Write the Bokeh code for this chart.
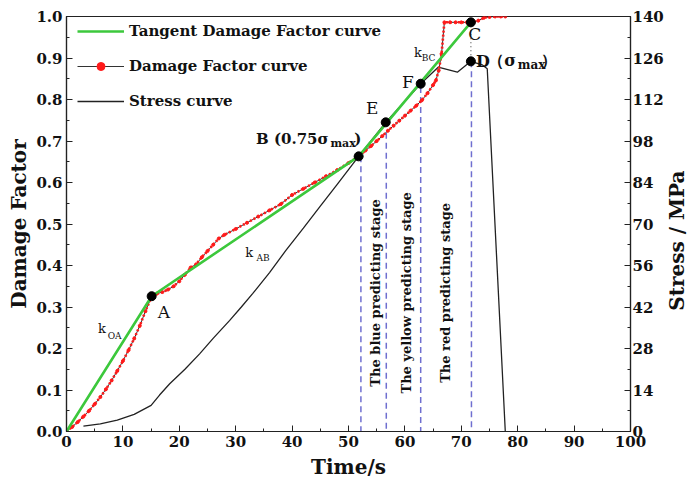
import math
from bokeh.plotting import figure
from bokeh.layouts import row
from bokeh.models import (Range1d, LinearAxis, SingleIntervalTicker, NumeralTickFormatter,
                          Legend, LegendItem)
from bokeh.core.properties import value
from bokeh.embed import file_html
from bokeh.resources import INLINE

# ---------------- data ----------------
tangent_time = [0, 15.1, 51.8, 71.7]
tangent_damage = [0, 0.326, 0.663, 0.986]

damage_time = [0, 1, 2, 3, 4, 5, 6, 7, 8, 9, 10, 11, 12, 13, 14, 15.1, 16, 17, 18, 19, 20,
               21, 22, 23, 24, 25, 26, 27, 28, 30, 32, 34, 36, 38, 40, 42, 44, 46, 48, 50,
               51.8, 53, 54, 55, 56, 57, 58, 59, 60, 61, 62, 63, 64, 65, 65.5, 66, 66.5, 67,
               68, 69, 70, 71, 72, 73, 74, 75, 76, 77, 77.8]
damage_factor = [0, 0.011, 0.023, 0.036, 0.05, 0.066, 0.083, 0.102, 0.123, 0.146, 0.17, 0.196,
                 0.224, 0.255, 0.29, 0.326, 0.332, 0.336, 0.342, 0.35, 0.362, 0.378, 0.395,
                 0.403, 0.42, 0.435, 0.45, 0.465, 0.474, 0.488, 0.503, 0.518, 0.533, 0.548,
                 0.57, 0.585, 0.6, 0.615, 0.63, 0.647, 0.663, 0.677, 0.688, 0.70, 0.712, 0.725,
                 0.737, 0.749, 0.761, 0.773, 0.785, 0.798, 0.815, 0.835, 0.846, 0.87, 0.91,
                 0.986, 0.986, 0.986, 0.986, 0.986, 0.986, 0.99, 0.997, 0.999, 1.0, 1.0, 1.0]

stress_time = [3, 6, 9, 12, 15, 16.5, 18.3, 21, 23.6, 26, 28.9, 31, 33, 36, 38.9, 42, 45, 48,
               51.8, 56.6, 62.8, 65.9, 69.3, 71.7, 73.7, 74.6, 77.8]
stress = [1.8, 2.6, 3.8, 5.8, 8.8, 12.3, 16.1, 21.0, 26.2, 31.4, 37.4, 42.0, 46.5, 53.6, 61.1,
          68.6, 76.0, 83.4, 92.8, 104.3, 117.3, 122.9, 121.2, 124.9, 123.7, 122.4, 0]

point_names = ["A", "B", "E", "F", "C", "D"]
point_time = [15.1, 51.8, 56.6, 62.8, 71.7, 71.7]
point_damage = [0.326, 0.663, 0.745, 0.838, 0.986, 0.892]

stage_line_time = [52.2, 56.7, 62.8, 71.8]
stage_line_top = [0.663, 0.72, 0.83, 0.892]

stage_names = ["The blue predicting stage", "The yellow predicting stage", "The red predicting stage"]

FONT = "DejaVu Serif"

p = figure(width=666, height=484, x_range=Range1d(0, 100), y_range=Range1d(0, 1),
           output_backend="svg", toolbar_location=None,
           min_border_left=66, min_border_right=34, min_border_top=16, min_border_bottom=53)
p.extra_y_ranges = {"stress": Range1d(0, 140)}
p.xgrid.visible = False
p.ygrid.visible = False
p.outline_line_color = "#222222"
p.outline_line_width = 1.2
p.background_fill_color = "white"
p.border_fill_color = "white"

def style_axis(ax):
    ax.axis_line_color = "#222222"
    ax.axis_line_width = 1.2
    ax.major_tick_in = 6
    ax.major_tick_out = 0
    ax.minor_tick_in = 3
    ax.minor_tick_out = 0
    ax.major_tick_line_color = "#222222"
    ax.minor_tick_line_color = "#222222"
    ax.major_label_text_font = FONT
    ax.major_label_text_font_style = "bold"
    ax.major_label_text_font_size = "15px"
    ax.major_label_text_color = "#111111"
    ax.major_label_standoff = 4
    ax.axis_label_text_font = FONT
    ax.axis_label_text_font_style = "bold"
    ax.axis_label_text_font_size = "20px"
    ax.axis_label_text_color = "#111111"
    ax.axis_label_standoff = 2

xa = p.xaxis[0]
xa.ticker = SingleIntervalTicker(interval=10, num_minor_ticks=2)
xa.axis_label = "Time/s"
style_axis(xa)
xa.axis_label_standoff = 5

ya = p.yaxis[0]
ya.ticker = SingleIntervalTicker(interval=0.1, num_minor_ticks=2)
ya.formatter = NumeralTickFormatter(format="0.0")
ya.axis_label = "Damage Factor"
style_axis(ya)

ra = LinearAxis(y_range_name="stress", ticker=SingleIntervalTicker(interval=14, num_minor_ticks=2))
style_axis(ra)
ra.major_label_standoff = 2
p.add_layout(ra, "right")

# stage dashed lines
p.segment(x0=stage_line_time, y0=stage_line_top, x1=stage_line_time, y1=[0] * len(stage_line_time),
          line_color="#6f6fd0", line_width=1.5, line_dash="6 4")
# dotted link C-D
p.segment(x0=[point_time[4]], y0=[point_damage[4]], x1=[point_time[5]], y1=[point_damage[5]],
          line_color="#555555", line_width=1.2, line_dash="1 3")

# stress curve
r_stress = p.line(stress_time, stress, y_range_name="stress", line_color="#222222", line_width=1.3)
# damage factor curve
r_dline = p.line(damage_time, damage_factor, line_color="#333333", line_width=1.0)
p.line(damage_time, damage_factor, line_color="#ff1a1a", line_width=2.6, line_dash="2 2")
r_ddots = p.scatter(damage_time, damage_factor, size=3, color="#ff1a1a", marker="circle")
# tangent curve
r_tan = p.line(tangent_time, tangent_damage, line_color="#3cc83c", line_width=2.6)

# key points
p.scatter(point_time, point_damage, size=9, color="black", marker="circle")

def txt(fig, x, y, s, size, style="normal", align="left", baseline="middle", angle=0.0):
    fig.text(x=[x], y=[y], text=[s], text_font=value(FONT), text_font_size=size,
             text_font_style=style, text_align=align, text_baseline=baseline,
             text_color="#111111", angle=angle)

# point labels
txt(p, 16.2, 0.288, "A", "17px")
txt(p, 53.1, 0.780, "E", "17px")
txt(p, 59.5, 0.843, "F", "17px")
txt(p, 72.4, 0.957, "C", "17px", align="center")
txt(p, 72.6, 0.892, "D", "16px", style="bold")
txt(p, 74.8, 0.894, "（σ", "16px", style="bold")
txt(p, 80.0, 0.882, "max", "12px", style="bold")
txt(p, 84.2, 0.894, "）", "16px", style="bold")
txt(p, 33.6, 0.706, "B (0.75σ", "15px", style="bold")
txt(p, 46.8, 0.693, "max", "11px", style="bold")
txt(p, 51.0, 0.706, ")", "15px", style="bold")

# slopes
txt(p, 5.6, 0.248, "k", "13px", baseline="alphabetic")
txt(p, 7.3, 0.231, "OA", "9px", baseline="alphabetic")
txt(p, 31.7, 0.431, "k", "13px", baseline="alphabetic")
txt(p, 33.7, 0.417, "AB", "9px", baseline="alphabetic")
txt(p, 61.6, 0.913, "k", "13px", baseline="alphabetic")
txt(p, 63.0, 0.901, "BC", "9px", baseline="alphabetic")

# stage texts
stage_x = [54.8, 60.2, 67.2]
for sx, name in zip(stage_x, stage_names):
    txt(p, sx, 0.334, name, "13px", style="bold", align="center", angle=math.pi / 2)

legend = Legend(items=[
    LegendItem(label="Tangent Damage Factor curve", renderers=[r_tan]),
    LegendItem(label="Damage Factor curve", renderers=[r_dline, r_ddots]),
    LegendItem(label="Stress curve", renderers=[r_stress]),
], location=(11, 320))
legend.label_text_font = FONT
legend.label_text_font_style = "bold"
legend.label_text_font_size = "15px"
legend.label_text_color = "#111111"
legend.glyph_width = 47
legend.glyph_height = 20
legend.label_height = 20
legend.label_standoff = 5
legend.spacing = 15
legend.padding = 0
legend.margin = 0
legend.background_fill_alpha = 0
legend.border_line_alpha = 0
p.add_layout(legend, "center")

# right-hand axis title, reading bottom-to-top as in the reference
side = figure(width=23, height=484, x_range=Range1d(0, 1), y_range=Range1d(0, 1),
              output_backend="svg", toolbar_location=None,
              x_axis_location=None, y_axis_location=None,
              min_border_left=0, min_border_right=0, min_border_top=0, min_border_bottom=0)
side.xgrid.visible = False
side.ygrid.visible = False
side.outline_line_color = None
side.background_fill_color = "white"
side.border_fill_color = "white"
txt(side, 0.45, 0.46, "Stress / MPa", "20px", style="bold", align="center", angle=math.pi / 2)

layout = row(p, side, spacing=0)
open("out.html", "w").write(file_html(layout, INLINE))
